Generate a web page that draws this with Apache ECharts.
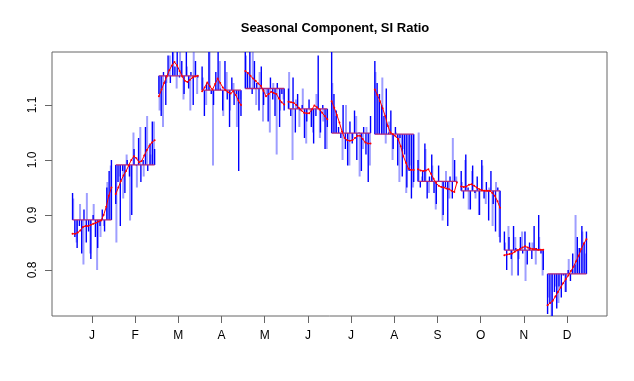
<!DOCTYPE html>
<html>
<head>
<meta charset="utf-8">
<script src="https://cdn.jsdelivr.net/npm/echarts@6/dist/echarts.min.js"></script>
<style>html,body{margin:0;padding:0;background:#fff}#chart{width:634px;height:381px}</style>
</head>
<body>
<div id="chart"></div>
<script>
var months = ['J', 'F', 'M', 'A', 'M', 'J', 'J', 'A', 'S', 'O', 'N', 'D'];
var monthTicks = [1, 2, 3, 4, 5, 6, 7, 8, 9, 10, 11, 12];
var yTicks = [0.8, 0.9, 1.0, 1.1];

// mean SI ratio of each month (horizontal line)
var monthMean = [0.891, 0.991, 1.153, 1.127, 1.130, 1.093, 1.049, 1.047, 0.961, 0.944, 0.836, 0.793];

// SI ratios, dark blue
var siDark = [
  [0.94, 0.86, 0.84, 0.88, 0.83, 0.91, 0.85, 0.87, 0.82, 0.90, 0.86, 0.84, 0.88, 0.91, 0.87, 0.95, 0.98, 1.00],
  [0.92, 0.96, 0.88, 0.98, 0.94, 1.00, 0.97, 0.90, 1.02, 0.99, 1.04, 0.96, 1.00, 1.06, 0.98, 1.03, 1.07, 1.02],
  [1.12, 1.08, 1.16, 1.10, 1.19, 1.14, 1.21, 1.17, 1.22, 1.15, 1.18, 1.12, 1.20, 1.13, 1.16, 1.10, 1.18, 1.15],
  [1.17, 1.08, 1.14, 1.20, 1.12, 1.10, 1.16, 1.22, 1.13, 1.09, 1.18, 1.11, 1.06, 1.15, 1.10, 1.12, 0.98, 1.08],
  [1.20, 1.16, 1.22, 1.12, 1.18, 1.14, 1.09, 1.17, 1.10, 1.13, 1.07, 1.15, 1.11, 1.08, 1.14, 1.06, 1.12, 1.09],
  [1.13, 1.08, 1.15, 1.05, 1.12, 1.09, 1.10, 1.04, 1.07, 1.11, 1.06, 1.03, 1.08, 1.19, 1.05, 1.10, 1.02, 1.06],
  [1.20, 1.12, 1.09, 1.06, 1.04, 1.10, 1.02, 0.99, 1.07, 1.03, 1.09, 1.00, 1.05, 0.98, 1.06, 1.01, 0.96, 1.08],
  [1.18, 1.14, 1.12, 1.10, 1.08, 1.13, 1.05, 1.09, 1.02, 1.06, 0.99, 1.04, 0.97, 1.01, 0.95, 0.98, 0.93, 0.96],
  [1.00, 0.95, 0.98, 1.03, 0.93, 0.97, 1.01, 0.94, 0.92, 0.99, 0.96, 0.90, 0.95, 0.88, 0.97, 0.93, 1.00, 0.96],
  [0.98, 0.93, 1.01, 0.95, 0.91, 0.99, 0.94, 0.97, 0.90, 1.00, 0.93, 0.96, 0.89, 0.98, 0.92, 0.87, 0.95, 0.85],
  [0.87, 0.80, 0.86, 0.82, 0.88, 0.84, 0.79, 0.86, 0.83, 0.87, 0.81, 0.85, 0.82, 0.88, 0.84, 0.90, 0.83, 0.80],
  [0.72, 0.74, 0.70, 0.76, 0.73, 0.77, 0.75, 0.79, 0.76, 0.80, 0.78, 0.83, 0.81, 0.86, 0.84, 0.88, 0.85, 0.87]
];

// SI ratios, light blue
var siLight = [
  [0.93, 0.85, 0.92, 0.81, 0.94, 0.83, 0.92, 0.80, 0.86, 0.88, 0.96, 0.99],
  [0.85, 0.97, 0.93, 1.01, 0.89, 1.05, 0.95, 1.06, 0.97, 1.08, 1.01, 1.07],
  [1.09, 1.06, 1.14, 1.19, 1.22, 1.13, 1.20, 1.11, 1.17, 1.09, 1.21, 1.12],
  [1.15, 1.10, 1.21, 0.99, 1.13, 1.18, 1.08, 1.16, 1.09, 1.14, 1.06, 1.11],
  [1.19, 1.13, 1.21, 1.10, 1.16, 1.07, 1.12, 1.05, 1.14, 1.01, 1.09, 1.11],
  [1.16, 1.00, 1.11, 1.06, 1.13, 1.03, 1.09, 1.05, 1.12, 1.04, 1.07, 1.02],
  [1.14, 1.08, 1.05, 1.00, 1.10, 0.99, 1.04, 1.08, 0.97, 1.02, 1.06, 0.99],
  [1.16, 1.11, 1.15, 1.03, 1.07, 1.00, 1.05, 0.96, 1.02, 0.94, 0.99, 0.95],
  [1.05, 0.97, 1.02, 0.94, 0.99, 0.91, 0.96, 0.89, 0.98, 0.93, 1.04, 0.97],
  [0.96, 1.00, 0.91, 0.98, 0.93, 0.90, 0.99, 0.92, 0.95, 0.88, 0.96, 0.86],
  [0.85, 0.88, 0.79, 0.86, 0.82, 0.87, 0.78, 0.84, 0.85, 0.81, 0.86, 0.79],
  [0.75, 0.71, 0.77, 0.74, 0.79, 0.76, 0.82, 0.80, 0.90, 0.84, 0.87, 0.83]
];

// seasonal factors (red line)
var seasonal = [
  [0.866, 0.866, 0.868, 0.872, 0.878, 0.880, 0.880, 0.882, 0.884, 0.886, 0.888, 0.890, 0.900, 0.915, 0.935, 0.950],
  [0.938, 0.950, 0.962, 0.972, 0.980, 0.990, 1.000, 1.007, 1.003, 0.996, 0.998, 1.008, 1.018, 1.026, 1.032, 1.036],
  [1.116, 1.128, 1.140, 1.152, 1.163, 1.172, 1.178, 1.172, 1.162, 1.152, 1.144, 1.142, 1.146, 1.150, 1.152, 1.153],
  [1.125, 1.132, 1.141, 1.134, 1.128, 1.138, 1.148, 1.140, 1.132, 1.127, 1.123, 1.121, 1.125, 1.118, 1.108, 1.100],
  [1.162, 1.158, 1.153, 1.148, 1.144, 1.139, 1.135, 1.126, 1.116, 1.120, 1.124, 1.122, 1.120, 1.112, 1.105, 1.101],
  [1.106, 1.105, 1.104, 1.100, 1.095, 1.090, 1.086, 1.085, 1.085, 1.092, 1.099, 1.096, 1.092, 1.086, 1.080, 1.074],
  [1.107, 1.095, 1.082, 1.068, 1.052, 1.040, 1.036, 1.035, 1.036, 1.040, 1.044, 1.044, 1.038, 1.032, 1.030, 1.030],
  [1.128, 1.118, 1.107, 1.094, 1.080, 1.062, 1.050, 1.047, 1.043, 1.038, 1.025, 1.007, 0.995, 0.984, 0.982, 0.982],
  [0.983, 0.981, 0.980, 0.981, 0.983, 0.975, 0.966, 0.958, 0.953, 0.951, 0.950, 0.948, 0.947, 0.944, 0.942, 0.959],
  [0.952, 0.951, 0.952, 0.955, 0.956, 0.953, 0.950, 0.947, 0.945, 0.944, 0.944, 0.944, 0.940, 0.935, 0.925, 0.913],
  [0.827, 0.828, 0.829, 0.830, 0.833, 0.836, 0.838, 0.841, 0.843, 0.841, 0.839, 0.838, 0.838, 0.837, 0.837, 0.837],
  [0.736, 0.740, 0.744, 0.752, 0.760, 0.768, 0.776, 0.783, 0.790, 0.798, 0.806, 0.816, 0.826, 0.838, 0.848, 0.856]
];

var chart = echarts.init(document.getElementById('chart'));
var half = 0.45;

// x position of k-th of n points within month i
function xpos(i, k, n, pad) {
  return monthTicks[i] - half + pad + (2 * (half - pad)) * k / (n - 1);
}

function segData(lists, pad) {
  var out = [];
  lists.forEach(function (vals, i) {
    vals.forEach(function (v, k) {
      out.push([xpos(i, k, vals.length, pad), monthMean[i], v]);
    });
  });
  return out;
}

function segRender(color, width) {
  return function (params, api) {
    var a = api.coord([api.value(0), api.value(1)]);
    var b = api.coord([api.value(0), api.value(2)]);
    return {
      type: 'line',
      shape: { x1: a[0], y1: a[1], x2: b[0], y2: b[1] },
      style: { stroke: color, lineWidth: width }
    };
  };
}

var series = [
  {
    type: 'custom', clip: true, animation: false, silent: true,
    renderItem: segRender('rgba(40,40,255,0.45)', 2),
    encode: { x: 0, y: [1, 2] },
    data: segData(siLight, 0.015)
  },
  {
    type: 'custom', clip: true, animation: false, silent: true,
    renderItem: segRender('#0000ff', 1.4),
    encode: { x: 0, y: [1, 2] },
    data: segData(siDark, 0)
  }
];

monthMean.forEach(function (m, i) {
  series.push({
    type: 'line', animation: false, silent: true, showSymbol: false,
    lineStyle: { color: '#b0287a', width: 1.3 },
    data: [[monthTicks[i] - half, m], [monthTicks[i] + half, m]]
  });
});

seasonal.forEach(function (vals, i) {
  series.push({
    type: 'line', animation: false, silent: true,
    symbol: 'circle', symbolSize: 2,
    itemStyle: { color: '#ff0000' },
    lineStyle: { color: '#ff0000', width: 1 },
    data: vals.map(function (v, k) { return [xpos(i, k, vals.length, 0), v]; })
  });
});

chart.setOption({
  backgroundColor: '#ffffff',
  animation: false,
  title: {
    text: 'Seasonal Component, SI Ratio',
    left: 330, top: 17, textAlign: 'center',
    textStyle: { fontFamily: 'Liberation Sans', fontSize: 13, fontWeight: 'bold', color: '#000' }
  },
  grid: {
    left: 52, top: 52, width: 555, height: 264,
    show: true, borderColor: '#666', borderWidth: 1
  },
  xAxis: {
    type: 'value', min: 0.074, max: 12.926,
    splitLine: { show: false },
    axisLine: { show: false },
    axisTick: { show: true, length: 7, lineStyle: { color: '#666' }, customValues: monthTicks },
    axisLabel: {
      customValues: monthTicks, margin: 14, color: '#000', fontSize: 12, fontFamily: 'Liberation Sans',
      formatter: function (v) { return months[Math.round(v) - 1]; }
    }
  },
  yAxis: {
    type: 'value', min: 0.7164, max: 1.1964,
    splitLine: { show: false },
    axisLine: { show: false },
    axisTick: { show: true, length: 7, lineStyle: { color: '#666' }, customValues: yTicks },
    axisLabel: {
      customValues: yTicks, rotate: 90, margin: 13, color: '#000', fontSize: 12, fontFamily: 'Liberation Sans',
      formatter: function (v) { return v.toFixed(1); }
    }
  },
  series: series
});
</script>
</body>
</html>
